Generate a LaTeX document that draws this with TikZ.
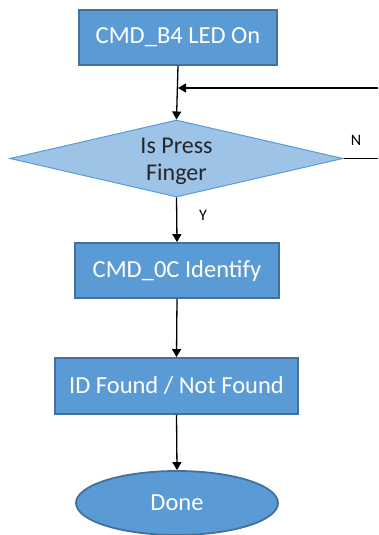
\documentclass[tikz,border=0pt]{standalone}
\usepackage{fontspec}
\setmainfont{Carlito}
\usetikzlibrary{shapes.geometric,arrows.meta}

\definecolor{boxfill}{RGB}{91,155,213}
\definecolor{boxline}{RGB}{65,113,156}
\definecolor{decfill}{RGB}{157,195,230}
\definecolor{txtdark}{RGB}{38,38,38}

\tikzset{
  procbox/.style={draw=boxline,line width=1.8pt,fill=boxfill,text=white,
    font=\fontsize{24.5}{28}\selectfont,inner sep=0pt},
  decbox/.style={diamond,draw=boxfill,line width=1pt,fill=decfill,inner sep=0pt},
  dectext/.style={text=txtdark,font=\fontsize{24}{27}\selectfont,align=center,inner sep=0pt},
  endbox/.style={ellipse,draw=boxline,line width=1.8pt,fill=boxfill,text=white,
    font=\fontsize{24.5}{28}\selectfont,inner sep=0pt},
  flow/.style={line width=1.3pt,-{Triangle[width=9pt,length=8pt]}},
  lbl/.style={font=\fontsize{16}{18}\selectfont,text=black}
}

\begin{document}
\begin{tikzpicture}[x=1pt,y=-1pt]
\useasboundingbox (0,0) rectangle (378,535);

%Process: LED on
\node[procbox,minimum width=198pt,minimum height=55pt] (ledon) at (178,37.5) {CMD\_B4 LED On};
%Decision: finger pressed
\node[decbox,minimum width=333pt,minimum height=77pt] (press) at (176.5,158.5) {};
\node[dectext,yshift=-3pt] (presstxt) at (press.center) {Is Press\\Finger};
%Process: identify
\node[procbox,minimum width=204pt,minimum height=55pt] (ident) at (177,270.5) {CMD\_0C Identify};
%Process: result
\node[procbox,minimum width=243pt,minimum height=56pt] (result) at (176.5,386) {ID Found / Not Found};
%Terminator
\node[endbox,minimum width=202pt,minimum height=64pt] (done) at (177,503) {Done};

%loop back ends
\coordinate (loopin) at (378,88);
\coordinate (noout) at (378,158.5);

%Connectors
\draw[flow] (ledon.south) -- (press.north);
\draw[flow] (loopin) -- (loopin -| ledon.south);
\draw[line width=1.3pt] (press.east) -- (noout);
\draw[flow] (press.south) -- (ident.north);
\draw[flow] (ident.south) -- (result.north);
\draw[flow] (result.south) -- (done.north);

% Text Node
\node[lbl] (nlbl) at (356,140) {N};
% Text Node
\node[lbl] (ylbl) at (203,215) {Y};

\end{tikzpicture}
\end{document}
